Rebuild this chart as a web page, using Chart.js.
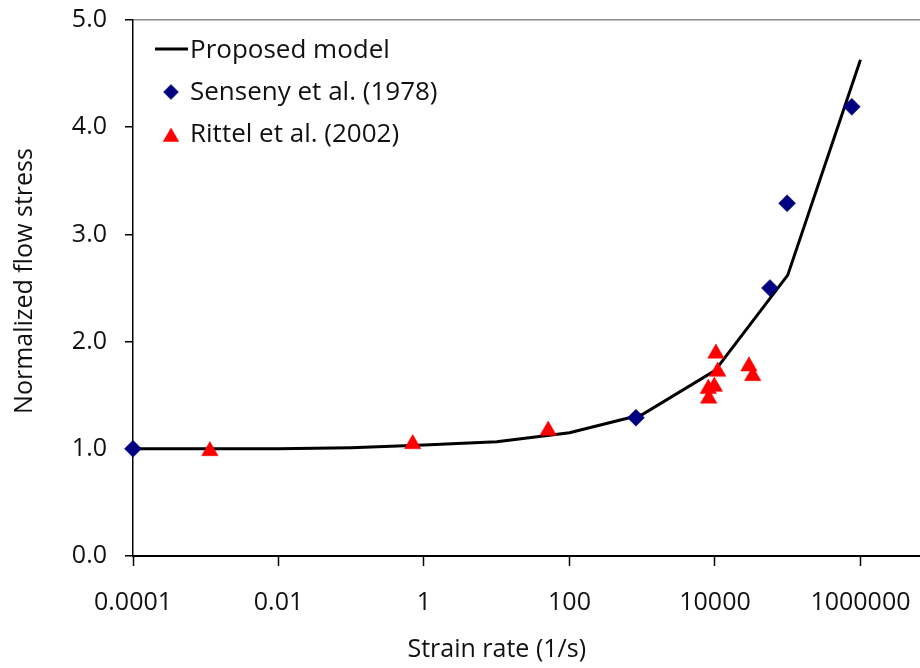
<!DOCTYPE html>
<html>
<head>
<meta charset="utf-8">
<script src="https://cdn.jsdelivr.net/npm/chart.js@4"></script>
<style>
  html, body { margin: 0; padding: 0; background: #fff; }
  #chart { display: block; }
</style>
</head>
<body>
<canvas id="chart" width="920" height="668"></canvas>
<script>
// model curve
const modelRate = [1e-4, 1e-3, 1e-2, 1e-1, 1, 10, 100, 1000, 1e4, 1e5, 1e6];
const modelStress = [1.0, 1.0, 1.0, 1.01, 1.035, 1.065, 1.15, 1.32, 1.73, 2.62, 4.63];

// Senseny et al. (1978)
const sensenyRate = [1e-4, 820, 57000, 98000, 760000];
const sensenyStress = [1.0, 1.29, 2.5, 3.29, 4.19];

// Rittel et al. (2002)
const rittelRate = [0.00114, 0.70, 51, 10300, 10900, 8200, 9800, 8100, 29300, 33000];
const rittelStress = [0.98, 1.045, 1.17, 1.89, 1.72, 1.47, 1.58, 1.56, 1.77, 1.68];

const xTickValues = [0.0001, 0.01, 1, 100, 10000, 1000000];
const xTickLabels = ['0.0001', '0.01', '1', '100', '10000', '1000000'];

const xTitle = 'Strain rate (1/s)';
const yTitle = 'Normalized flow stress';

const FONT = "'Open Sans', sans-serif";
const TEXT = '#111';

const pts = (xs, ys) => xs.map((x, i) => ({ x: x, y: ys[i] }));

const zeroPad = s => {
  s.paddingLeft = 0; s.paddingRight = 0; s.paddingTop = 0; s.paddingBottom = 0;
};

// axis titles + in-plot legend, drawn on top
const overlay = {
  id: 'overlay',
  afterDraw(chart) {
    const { ctx, chartArea, scales } = chart;
    ctx.save();
    ctx.fillStyle = TEXT;
    ctx.font = `25px ${FONT}`;

    // x title, centred under the 0.0001 .. 1000000 span
    const xc = (scales.x.getPixelForValue(1e-4) + scales.x.getPixelForValue(1e6)) / 2;
    ctx.textAlign = 'center';
    ctx.textBaseline = 'alphabetic';
    ctx.fillText(xTitle, xc, 657);

    // y title
    ctx.save();
    ctx.translate(32, (chartArea.top + chartArea.bottom) / 2 - 7);
    ctx.rotate(-Math.PI / 2);
    ctx.fillText(yTitle, 0, 0);
    ctx.restore();

    // legend
    ctx.font = `26px ${FONT}`;
    ctx.textAlign = 'left';
    const rows = [58, 100, 142];
    chart.data.datasets.forEach((ds, i) => {
      const y = rows[i];
      if (ds.showLine) {
        ctx.strokeStyle = ds.borderColor;
        ctx.lineWidth = 3;
        ctx.beginPath();
        ctx.moveTo(155, y - 9);
        ctx.lineTo(188, y - 9);
        ctx.stroke();
      } else {
        ctx.fillStyle = ds.backgroundColor;
        ctx.strokeStyle = ds.backgroundColor;
        ctx.lineWidth = 0.5;
        const r = ds.pointStyle === 'triangle' ? 9 : 7.5;
        const cy = ds.pointStyle === 'triangle' ? y - 5 : y - 8;
        Chart.helpers.drawPoint(ctx, { pointStyle: ds.pointStyle, radius: r, borderWidth: 0.5 }, 171, cy);
      }
      ctx.fillStyle = TEXT;
      ctx.fillText(ds.label, 190, y);
    });
    ctx.restore();
  }
};

new Chart(document.getElementById('chart'), {
  type: 'scatter',
  data: {
    datasets: [
      {
        label: 'Proposed model',
        data: pts(modelRate, modelStress),
        showLine: true,
        borderColor: '#000',
        borderWidth: 3,
        pointRadius: 0,
        tension: 0,
        order: 3
      },
      {
        label: 'Senseny et al. (1978)',
        data: pts(sensenyRate, sensenyStress),
        pointStyle: 'rectRot',
        pointRadius: 8.5,
        backgroundColor: '#000080',
        borderColor: '#000080',
        borderWidth: 0.5,
        clip: false,
        order: 2
      },
      {
        label: 'Rittel et al. (2002)',
        data: pts(rittelRate, rittelStress),
        pointStyle: 'triangle',
        pointRadius: 9.5,
        backgroundColor: '#ff0000',
        borderColor: '#ff0000',
        borderWidth: 0.5,
        clip: false,
        order: 1
      }
    ]
  },
  options: {
    responsive: false,
    animation: false,
    layout: { autoPadding: false, padding: { top: 20, right: 0, left: 0, bottom: 0 } },
    plugins: {
      legend: { display: false },
      tooltip: { enabled: false }
    },
    scales: {
      x: {
        type: 'logarithmic',
        min: 1e-4,
        max: 6.58e6,
        afterBuildTicks: scale => {
          scale.ticks = xTickValues.map(v => ({ value: v }));
        },
        afterFit: scale => {
          scale.height = 112;
          zeroPad(scale);
        },
        border: { display: true, color: '#000', width: 2 },
        grid: {
          drawOnChartArea: false,
          tickLength: 10,
          tickColor: '#000',
          tickWidth: 1.5
        },
        ticks: {
          autoSkip: false,
          maxRotation: 0,
          padding: 22,
          color: TEXT,
          font: { size: 25, family: FONT },
          callback: (v, i) => xTickLabels[i]
        }
      },
      y: {
        min: 0,
        max: 5,
        afterFit: scale => {
          scale.width = 133;
          zeroPad(scale);
        },
        border: { display: true, color: '#000', width: 1.5 },
        grid: {
          color: c => (c.tick && c.tick.value === 5 ? '#8c8c8c' : 'rgba(0,0,0,0)'),
          lineWidth: 1.5,
          tickLength: 8,
          tickColor: '#000',
          tickWidth: 1.5
        },
        ticks: {
          stepSize: 1,
          padding: 18,
          color: TEXT,
          font: { size: 25, family: FONT },
          callback: v => v.toFixed(1)
        }
      }
    }
  },
  plugins: [overlay]
});
</script>
</body>
</html>
